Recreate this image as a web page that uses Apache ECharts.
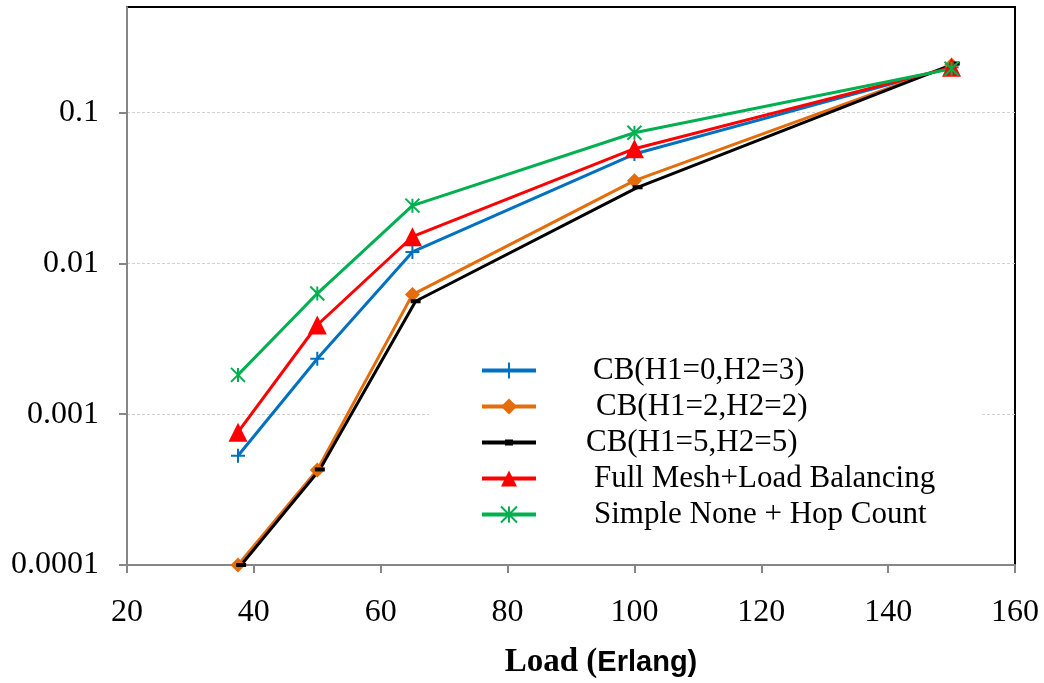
<!DOCTYPE html>
<html>
<head>
<meta charset="utf-8">
<script src="https://cdn.jsdelivr.net/npm/echarts@6/dist/echarts.min.js"></script>
<style>
  html, body { margin: 0; padding: 0; background: #fff; }
  #chart { width: 1044px; height: 683px; }
</style>
</head>
<body>
<div id="chart"></div>
<script>
// Blocking probability versus offered load, log scale
const seriesNames = [
  'CB(H1=0,H2=3)',
  'CB(H1=2,H2=2)',
  'CB(H1=5,H2=5)',
  'Full Mesh+Load Balancing',
  'Simple None + Hop Count'
];
const loads = [37.5, 50, 65, 100, 150];
const loadsH55 = [38, 50.4, 65.5, 100.5, 150.5];
const cbH03 = [0.00053, 0.00233, 0.0119, 0.053, 0.199];
const cbH22 = [0.0001, 0.000427, 0.0062, 0.0353, 0.206];
const cbH55 = [0.0001, 0.00043, 0.0056, 0.0319, 0.211];
const fullMesh = [0.00076, 0.0039, 0.015, 0.0575, 0.199];
const simpleNone = [0.00182, 0.0063, 0.0241, 0.0733, 0.195];
const yTickValues = [0.0001, 0.001, 0.01, 0.1];
const yTickLabels = ['0.0001', '0.001', '0.01', '0.1'];
const xTickLabels = ['20', '40', '60', '80', '100', '120', '140', '160'];

const pairs = (xs, ys) => xs.map((x, i) => [x, ys[i]]);

const serif = '"Liberation Serif", "Times New Roman", serif';
const axisGray = '#868686';

const plusPath = 'path://M5,0 L5,10 M0,5 L10,5';
const starPath = 'path://M5,0 L5,10 M0,0 L10,10 M0,10 L10,0';
const dashPath = 'path://M0,0 L10,0 L10,4 L0,4 Z';
// legend icon for the dash-marker series: line with a short bar in the middle
const dashLegendIcon = 'path://M0,1 L54,1 L54,5 L0,5 Z M23,0 L31,0 L31,6 L23,6 Z';

const chart = echarts.init(document.getElementById('chart'), null, { renderer: 'canvas' });

chart.setOption({
  animation: false,
  backgroundColor: '#fff',
  grid: {
    left: 127, right: 29, top: 7, bottom: 118,
    outerBoundsMode: 'none',
    show: true, borderColor: '#000', borderWidth: 2, backgroundColor: 'transparent'
  },
  xAxis: {
    type: 'value',
    min: 20, max: 160, interval: 20,
    axisLine: { show: true, lineStyle: { color: axisGray, width: 2 } },
    axisTick: { show: true, length: 8, lineStyle: { color: axisGray, width: 2 } },
    splitLine: { show: false },
    axisLabel: {
      color: '#000', fontFamily: serif, fontSize: 32, margin: 32,
      formatter: v => xTickLabels[Math.round((v - 20) / 20)] ?? ''
    },
    name: '{a|Load (}{b|Erlang)}',
    nameLocation: 'middle',
    nameGap: 81,
    nameTextStyle: {
      padding: [0, 0, 0, 60],
      rich: {
        a: { fontFamily: serif, fontWeight: 'bold', fontSize: 33, color: '#000' },
        b: { fontFamily: '"Liberation Sans", Arial, sans-serif', fontWeight: 'bold', fontSize: 29, color: '#000' }
      }
    }
  },
  yAxis: {
    type: 'log',
    logBase: 10,
    min: 0.0001, max: 0.5,
    axisLine: { show: true, lineStyle: { color: axisGray, width: 2 } },
    axisTick: { show: true, length: 8, customValues: yTickValues, lineStyle: { color: axisGray, width: 2 } },
    splitLine: { show: true, lineStyle: { color: '#d0d0d0', width: 1, type: [3, 2] } },
    axisLabel: {
      color: '#000', fontFamily: serif, fontSize: 32, margin: 28,
      customValues: yTickValues,
      formatter: v => {
        const i = yTickValues.findIndex(t => Math.abs(Math.log10(v) - Math.log10(t)) < 1e-6);
        return i >= 0 ? yTickLabels[i] : '';
      }
    }
  },
  legend: {
    left: 429, top: 351,
    orient: 'vertical',
    backgroundColor: '#fff',
    padding: [4, 47, 4, 51],
    itemWidth: 54, itemHeight: 20, itemGap: 5,
    symbolKeepAspect: true,
    lineStyle: { width: 4 },
    textStyle: { fontFamily: serif, fontSize: 31, color: '#000', lineHeight: 31, padding: [0, 0, 0, 52] },
    data: [
      { name: seriesNames[0] },
      { name: seriesNames[1], textStyle: { padding: [0, 0, 0, 55] } },
      { name: seriesNames[2], icon: dashLegendIcon, textStyle: { padding: [0, 0, 0, 45] } },
      { name: seriesNames[3], textStyle: { padding: [0, 0, 0, 53] } },
      { name: seriesNames[4], textStyle: { padding: [0, 0, 0, 53] } }
    ]
  },
  series: [
    {
      name: seriesNames[0], type: 'line', clip: false,
      data: pairs(loads, cbH03),
      symbol: plusPath, symbolSize: 14,
      lineStyle: { color: '#0070C0', width: 3 },
      itemStyle: { color: '#0070C0', borderColor: '#0070C0', borderWidth: 2 }
    },
    {
      name: seriesNames[1], type: 'line', clip: false,
      data: pairs(loads, cbH22),
      symbol: 'diamond', symbolSize: 15,
      lineStyle: { color: '#E46C0A', width: 3 },
      itemStyle: { color: '#E46C0A' }
    },
    {
      name: seriesNames[2], type: 'line', clip: false,
      data: pairs(loadsH55, cbH55),
      symbol: dashPath, symbolSize: 10, symbolKeepAspect: true,
      lineStyle: { color: '#000', width: 3 },
      itemStyle: { color: '#000' }
    },
    {
      name: seriesNames[3], type: 'line', clip: false,
      data: pairs(loads, fullMesh),
      symbol: 'triangle', symbolSize: 19,
      lineStyle: { color: '#FF0000', width: 3 },
      itemStyle: { color: '#FF0000' }
    },
    {
      name: seriesNames[4], type: 'line', clip: false,
      data: pairs(loads, simpleNone),
      symbol: starPath, symbolSize: 14,
      lineStyle: { color: '#00B050', width: 3 },
      itemStyle: { color: '#00B050', borderColor: '#00B050', borderWidth: 2 }
    }
  ]
});
</script>
</body>
</html>
